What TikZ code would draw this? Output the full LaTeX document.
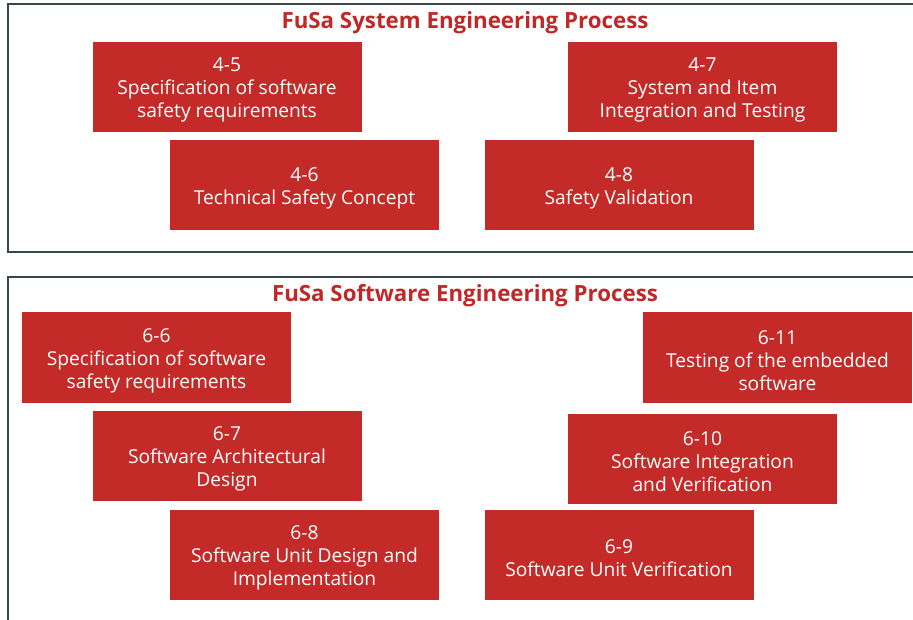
\documentclass[tikz,border=0pt]{standalone}
\usepackage{fontspec}
\setmainfont{Open Sans}
\definecolor{boxred}{RGB}{196,43,40}
\definecolor{titlered}{RGB}{192,40,40}
\definecolor{framegray}{RGB}{58,68,80}
\tikzset{
  procbox/.style={fill=boxred, draw=none, minimum width=269pt, minimum height=90pt, inner sep=0pt},
  boxtext/.style={text=white, align=center, inner sep=0pt, yshift=-3pt, font=\fontsize{19.2}{23}\selectfont},
  paneltitle/.style={text=titlered, font=\bfseries\fontsize{22.3}{26}\selectfont, anchor=base, inner sep=0pt},
  panel/.style={draw=framegray, line width=2pt}
}
\begin{document}
\begin{tikzpicture}[x=1pt,y=-1pt]
\useasboundingbox (0,0) rectangle (913,620);
% frames
\draw[panel] (930,4.5) -- (7.5,4.5) -- (7.5,252) -- (930,252);
\draw[panel] (930,277) -- (7.5,277) -- (7.5,640);
% titles
\node[paneltitle] (t1) at (465,29) {FuSa System Engineering Process};
\node[paneltitle] (t2) at (465,302) {FuSa Software Engineering Process};
% system boxes
\node[procbox, label={[boxtext]center:{4-5\\Specification of software\\safety requirements}}] (b45) at (227,87) {};
\node[procbox, label={[boxtext]center:{4-6\\Technical Safety Concept}}] (b46) at (304.5,185) {};
\node[procbox, label={[boxtext]center:{4-7\\System and Item\\Integration and Testing}}] (b47) at (702.5,87) {};
\node[procbox, label={[boxtext]center:{4-8\\Safety Validation}}] (b48) at (619,185) {};
% software boxes
\node[procbox, label={[boxtext]center:{6-6\\Specification of software\\safety requirements}}] (b66) at (156.5,357.5) {};
\node[procbox, label={[boxtext]center:{6-7\\Software Architectural\\Design}}] (b67) at (227,456) {};
\node[procbox, label={[boxtext]center:{6-8\\Software Unit Design and\\Implementation}}] (b68) at (304.5,555) {};
\node[procbox, label={[boxtext]center:{6-11\\Testing of the embedded\\software}}] (b611) at (777.5,357.5) {};
\node[procbox, label={[boxtext]center:{6-10\\Software Integration\\and Verification}}] (b610) at (702.5,458.5) {};
\node[procbox, label={[boxtext]center:{6-9\\Software Unit Verification}}] (b69) at (619,555) {};
\end{tikzpicture}
\end{document}
